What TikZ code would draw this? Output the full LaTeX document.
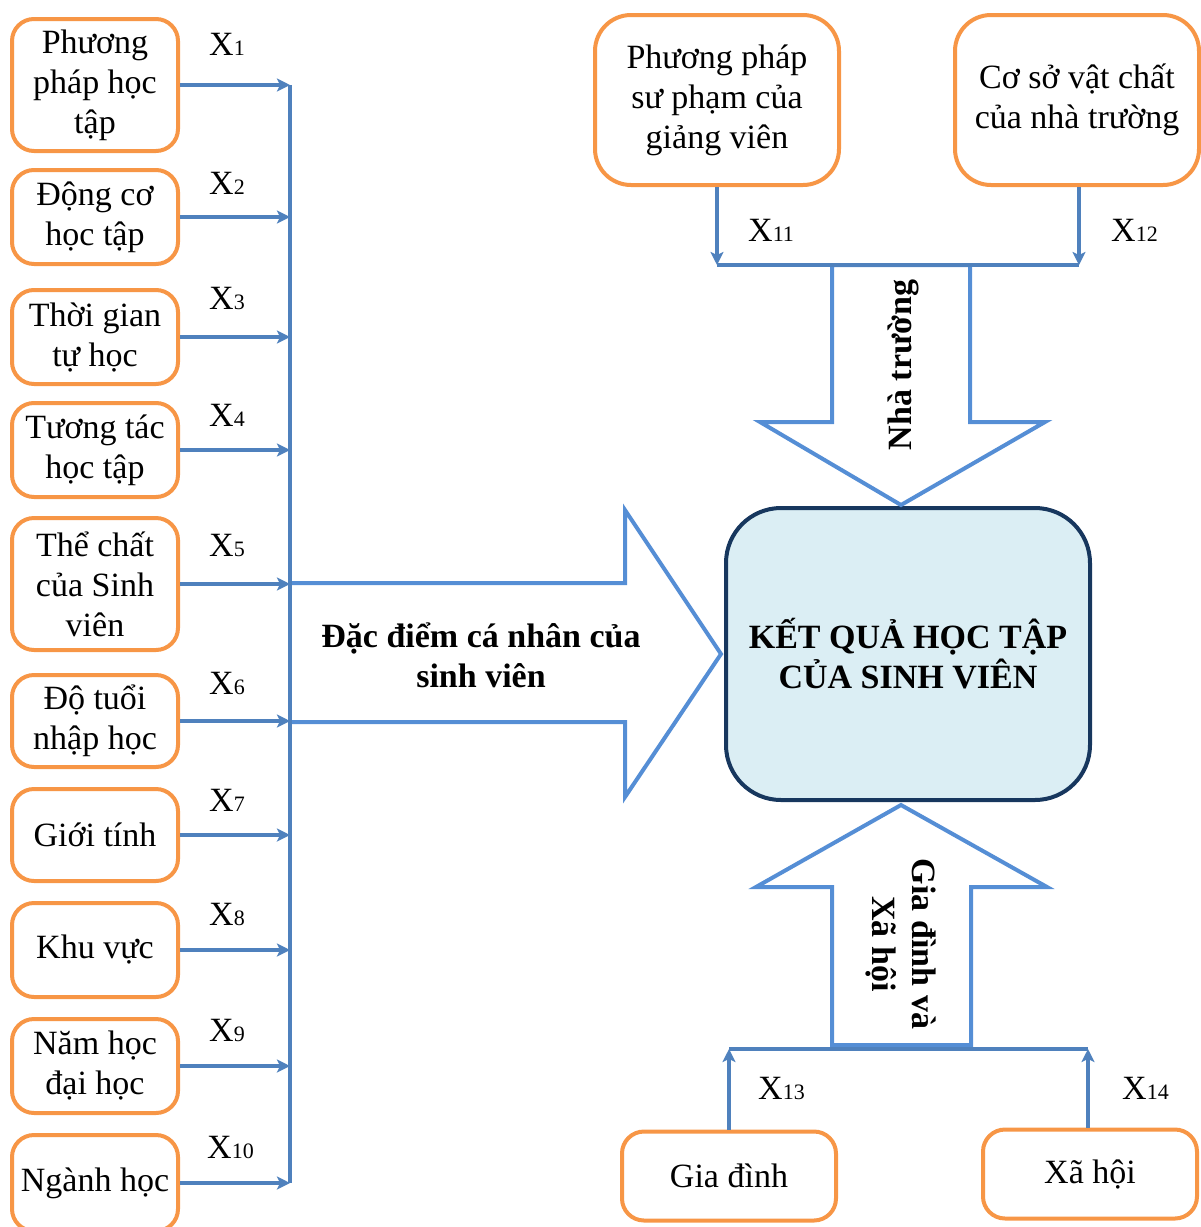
\documentclass[tikz,border=0pt]{standalone}
\usepackage{fontspec}
\setmainfont{Liberation Serif}
\usetikzlibrary{arrows.meta}
\definecolor{org}{RGB}{247,150,70}
\definecolor{cblue}{RGB}{79,129,189}
\definecolor{ablue}{RGB}{85,142,213}
\definecolor{navy}{RGB}{23,55,94}
\definecolor{lblue}{RGB}{219,238,244}
\newcommand{\Xlab}[1]{X{\fontsize{22}{22}\selectfont #1}}
\begin{document}
\begin{tikzpicture}[x=1pt,y=-1pt,
  every node/.style={font=\fontsize{34}{40}\selectfont, inner sep=0pt},
  bld/.style={font=\fontsize{34}{40}\selectfont\bfseries},
  obox/.style={draw=org, line width=4pt, rounded corners=22pt, fill=white, align=center},
  lbox/.style={obox, minimum width=166pt},
  tbox/.style={obox, rounded corners=36pt, minimum width=244pt, minimum height=170pt},
  bbox/.style={obox, minimum width=214pt, minimum height=89pt},
  conn/.style={draw=cblue, line width=3.5pt, -{Stealth[length=13pt,width=13pt,inset=3pt]}},
  cline/.style={draw=cblue, line width=3.5pt},
  bigarrow/.style={draw=ablue, line width=4pt, line join=miter},
  xl/.style={anchor=west},
]
\useasboundingbox (0,0) rectangle (1201,1227);

% left boxes
\node[lbox, minimum height=132pt] (b1) at (95,85) {Phương\\pháp học\\tập};
\node[lbox, minimum height=94pt] (b2) at (95,217) {Động cơ\\học tập};
\node[lbox, minimum height=94pt] (b3) at (95,337) {Thời gian\\tự học};
\node[lbox, minimum height=94pt] (b4) at (95,450) {Tương tác\\học tập};
\node[lbox, minimum height=132pt] (b5) at (95,584) {Thể chất\\của Sinh\\viên};
\node[lbox, minimum height=92pt] (b6) at (95,721) {Độ tuổi\\nhập học};
\node[lbox, minimum height=92pt] (b7) at (95,835) {Giới tính};
\node[lbox, minimum height=94pt] (b8) at (95,950) {Khu vực};
\node[lbox, minimum height=94pt] (b9) at (95,1066) {Năm học\\đại học};
\node[lbox, minimum height=96pt] (b10) at (95,1183) {Ngành học};

% vertical collector
\coordinate (vt) at (290,85);
\coordinate (vb) at (290,1183);

% big right arrow
\draw[bigarrow] (290,583) -- (625,583) -- (625,510) -- (721,654) -- (625,797) -- (625,722) -- (290,722);
\node[bld, align=center] (t1) at (481,655) {Đặc điểm cá nhân của\\sinh viên};

\draw[cline] (vt) -- (vb);
\foreach \i in {1,...,10} {
  \draw[conn] (b\i.east) -- (b\i.east -| vt);
}

% labels left
\node[xl] (x1) at (209,44) {\Xlab{1}};
\node[xl] (x2) at (209,183) {\Xlab{2}};
\node[xl] (x3) at (209,298) {\Xlab{3}};
\node[xl] (x4) at (209,415) {\Xlab{4}};
\node[xl] (x5) at (209,545) {\Xlab{5}};
\node[xl] (x6) at (209,683) {\Xlab{6}};
\node[xl] (x7) at (209,800) {\Xlab{7}};
\node[xl] (x8) at (209,914) {\Xlab{8}};
\node[xl] (x9) at (209,1030) {\Xlab{9}};
\node[xl] (x10) at (207,1147) {\Xlab{10}};

% central result box
\node[draw=navy, fill=lblue, line width=4pt, rounded corners=55pt,
      minimum width=364pt, minimum height=292pt, align=center, bld] (res)
      at (908,654) {KẾT QUẢ HỌC TẬP\\CỦA SINH VIÊN};

% top boxes
\node[tbox] (ta) at (717,100) {Phương pháp\\sư phạm của\\giảng viên};
\node[tbox] (tb) at (1077,100) {Cơ sở vật chất\\của nhà trường};
\coordinate (j1) at (717,265);
\coordinate (j2) at (1079,265);

\draw[bigarrow] (832,265) -- (832,422) -- (760,422) -- (901,505) -- (1045,422) -- (970,422) -- (970,265) -- cycle;
\node[bld, rotate=90] (t2) at (903,365) {Nhà trường};
\draw[conn] (ta.south) -- (j1);
\draw[conn] ([xshift=2pt]tb.south) -- (j2);
\draw[cline] (j1) -- (j2);
\node[xl] (x11) at (748,230) {\Xlab{11}};
\node[xl] (x12) at (1111,230) {\Xlab{12}};

% bottom
\draw[bigarrow] (832,1045) -- (832,887) -- (756,887) -- (901,805) -- (1047,887) -- (971,887) -- (971,1045) -- cycle;
\node[bld, rotate=-90, align=center] (t3) at (901,944) {Gia đình và\\Xã hội};

\node[bbox] (bg) at (729,1176) {Gia đình};
\node[bbox] (bx) at (1090,1174) {Xã hội};
\coordinate (k1) at (729,1049);
\coordinate (k2) at (1088,1049);
\draw[conn] (bg.north) -- (k1);
\draw[conn] ([xshift=-2pt]bx.north) -- (k2);
\draw[cline] (k1) -- (k2);
\node[xl] (x13) at (758,1088) {\Xlab{13}};
\node[xl] (x14) at (1122,1088) {\Xlab{14}};
\end{tikzpicture}
\end{document}
